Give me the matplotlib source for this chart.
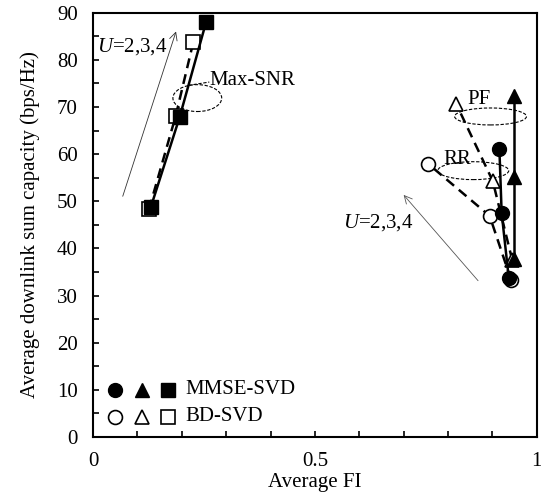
import numpy as np
import matplotlib.pyplot as plt
from matplotlib.patches import Ellipse

plt.rcParams['font.family'] = ['Liberation Serif', 'DejaVu Serif']
plt.rcParams['mathtext.fontset'] = 'custom'
plt.rcParams['mathtext.it'] = 'Liberation Serif:italic'
plt.rcParams['mathtext.rm'] = 'Liberation Serif'

# Max-SNR, U = 2,3,4
fi_maxsnr_mmse = [0.13, 0.195, 0.255]
cap_maxsnr_mmse = [48.7, 67.8, 88.1]
fi_maxsnr_bd = [0.126, 0.186, 0.226]
cap_maxsnr_bd = [48.3, 68.0, 83.8]

# PF
fi_pf_mmse = [0.95, 0.95, 0.95]
cap_pf_mmse = [37.7, 55.1, 72.4]
fi_pf_bd = [0.945, 0.901, 0.819]
cap_pf_bd = [37.5, 54.3, 70.6]

# RR
fi_rr_mmse = [0.937, 0.921, 0.916]
cap_rr_mmse = [33.8, 47.6, 61.0]
fi_rr_bd = [0.942, 0.894, 0.756]
cap_rr_bd = [33.4, 46.9, 57.9]

fs = 15
fig = plt.figure(figsize=(5.41, 4.92), dpi=100)
ax = fig.add_axes([0.172, 0.112, 0.82, 0.862])

ms = 10
dash = (0, (4, 2.5))
# BD-SVD (open markers, dashed)
ax.plot(fi_maxsnr_bd, cap_maxsnr_bd, color='k', lw=1.8, ls=dash, marker='s', ms=ms,
        mfc='white', mec='k', mew=1.2)
ax.plot(fi_pf_bd, cap_pf_bd, color='k', lw=1.8, ls=dash, marker='^', ms=ms,
        mfc='white', mec='k', mew=1.2)
ax.plot(fi_rr_bd, cap_rr_bd, color='k', lw=1.8, ls=dash, marker='o', ms=ms,
        mfc='white', mec='k', mew=1.2)
# MMSE-SVD (filled markers, solid)
ax.plot(fi_maxsnr_mmse, cap_maxsnr_mmse, color='k', lw=1.8, marker='s', ms=ms)
ax.plot(fi_pf_mmse, cap_pf_mmse, color='k', lw=1.8, marker='^', ms=ms)
ax.plot(fi_rr_mmse, cap_rr_mmse, color='k', lw=1.8, marker='o', ms=ms)

# grouping ellipses
for (cx, cy, w, h) in [(0.235, 71.9, 0.110, 5.7), (0.896, 68.0, 0.162, 3.6),
                       (0.857, 56.5, 0.160, 3.8)]:
    ax.add_patch(Ellipse((cx, cy), w, h, fill=False, ls=(0, (3, 1.5)), lw=0.8, color='k'))
ax.plot([0.215, 0.262], [74.6, 75.3], color='k', ls=(0, (3, 1.5)), lw=0.8)
ax.text(0.263, 75.6, 'Max-SNR', fontsize=fs, va='center', ha='left')
ax.text(0.843, 71.5, 'PF', fontsize=fs, va='center', ha='left')
ax.text(0.79, 58.8, 'RR', fontsize=fs, va='center', ha='left')

# arrows for U
ax.annotate('', xy=(0.189, 86.6), xytext=(0.065, 50.5),
            arrowprops=dict(arrowstyle='->', lw=0.6, color='#333333', mutation_scale=14))
ax.text(0.009, 82.8, '$U$=2,3,4', fontsize=fs, va='center', ha='left')
ax.annotate('', xy=(0.696, 51.8), xytext=(0.872, 32.7),
            arrowprops=dict(arrowstyle='->', lw=0.6, color='#555555', mutation_scale=14))
ax.text(0.563, 45.4, '$U$=2,3,4', fontsize=fs, va='center', ha='left')

# legend drawn by hand
for x, m in [(0.05, 'o'), (0.110, '^'), (0.169, 's')]:
    ax.plot([x], [10.0], marker=m, ms=ms, color='k', ls='none')
    ax.plot([x], [4.3], marker=m, ms=ms, mfc='white', mec='k', mew=1.2, ls='none')
ax.text(0.207, 10.0, 'MMSE-SVD', fontsize=fs, va='center', ha='left')
ax.text(0.207, 4.3, 'BD-SVD', fontsize=fs, va='center', ha='left')

ax.set_xlim(0, 1)
ax.set_ylim(0, 90)
ax.set_xticks([0, 0.5, 1])
ax.set_xticklabels(['0', '0.5', '1'])
ax.set_xticks(np.arange(0, 1.01, 0.1), minor=True)
ax.set_yticks(np.arange(0, 91, 10))
ax.set_yticks(np.arange(0, 91, 5), minor=True)
ax.tick_params(which='both', direction='in', length=4, width=1.2, top=False, right=False)
ax.tick_params(axis='x', pad=11, labelsize=fs)
ax.tick_params(axis='y', pad=11, labelsize=fs)
for s in ax.spines.values():
    s.set_linewidth(1.5)

ax.set_xlabel('Average FI', fontsize=fs, labelpad=1)
ax.set_ylabel('Average downlink sum capacity (bps/Hz)', fontsize=fs, labelpad=12)

fig.savefig('out.png', dpi=100)
